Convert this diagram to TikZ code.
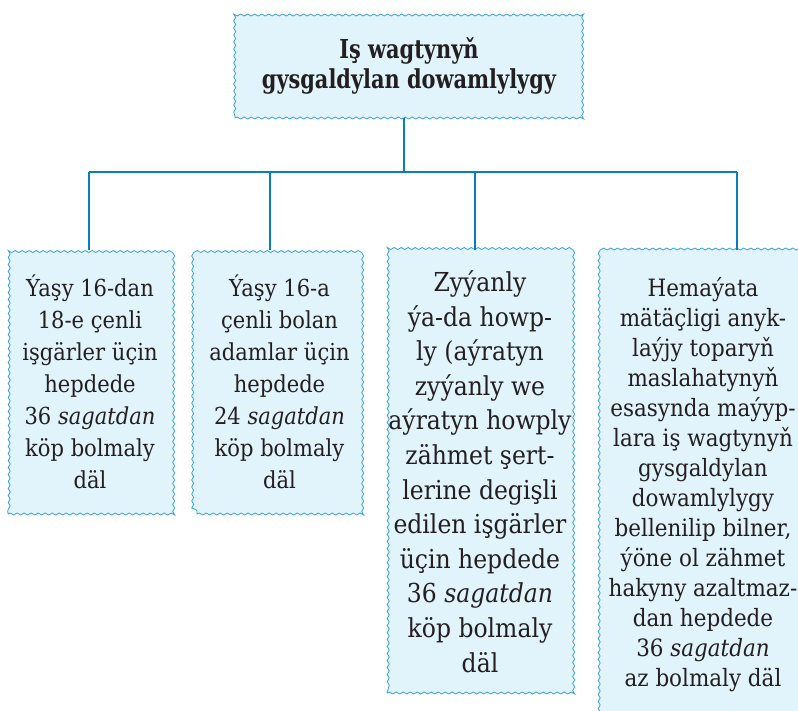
\documentclass[tikz,border=0pt]{standalone}
\usepackage{fontspec}
\setmainfont{DejaVu Serif}[Scale=0.9, FakeStretch=0.9]
\newfontfamily\titlefont{DejaVu Serif}[Scale=0.9, FakeStretch=0.8]
\usetikzlibrary{decorations.pathmorphing}
\definecolor{boxfill}{HTML}{E1F3FB}
\definecolor{boxline}{HTML}{3AA3D8}
\definecolor{connc}{HTML}{0A7EBC}
\definecolor{txt}{HTML}{231F20}
\begin{document}
\begin{tikzpicture}[x=1pt,y=-1pt]
\useasboundingbox (0,0) rectangle (798,710);
\clip (0,0) rectangle (798,710);
\tikzset{
  wavybox/.style={draw=boxline, fill=boxfill, line width=0.8pt, decorate,
    decoration={snake, segment length=7pt, amplitude=1pt},
    inner sep=0pt, align=center, text=txt},
  connline/.style={draw=connc, line width=2pt},
  smalltxt/.style={font=\fontsize{26}{32}\selectfont},
}
% top box
\node[wavybox, minimum width=348pt, minimum height=105pt,
  font=\titlefont\bfseries\fontsize{29}{30}\selectfont] (top) at (409,65.5)
  {Iş wagtynyň\\gysgaldylan dowamlylygy};
% lower boxes
\node[wavybox, smalltxt, minimum width=164pt, minimum height=264pt] (b1) at (90,382)
  {Ýaşy 16-dan\\18-e çenli\\işgärler üçin\\hepdede\\36 \textit{sagatdan}\\köp bolmaly\\däl};
\node[wavybox, smalltxt, minimum width=165pt, minimum height=264pt] (b2) at (279.5,382)
  {Ýaşy 16-a\\çenli bolan\\adamlar üçin\\hepdede\\24 \textit{sagatdan}\\köp bolmaly\\däl};
\node[wavybox, font=\fontsize{29}{34.6}\selectfont, minimum width=186pt, minimum height=443pt] (b3) at (480,471.5)
  {Zyýanly\\ýa-da howp-\\ly (aýratyn\\zyýanly we\\aýratyn howply\\zähmet şert-\\lerine degişli\\edilen işgärler\\üçin hepdede\\36 \textit{sagatdan}\\köp bolmaly\\däl};
\node[wavybox, font=\fontsize{26.5}{30}\selectfont, minimum width=210pt, minimum height=470pt] (b4) at (703,485)
  {Hemaýata\\mätäçligi anyk-\\laýjy toparyň\\maslahatynyň\\esasynda maýyp-\\lara iş wagtynyň\\gysgaldylan\\dowamlylygy\\bellenilip bilner,\\ýöne ol zähmet\\hakyny azaltmaz-\\dan hepdede\\36 \textit{sagatdan}\\az bolmaly däl};
% connectors
\coordinate (hub) at (404,172);
\coordinate (j1) at (89,172);
\coordinate (j2) at (270,172);
\coordinate (j3) at (475,172);
\coordinate (j4) at (737,172);
\draw[connline] (top.south -| hub) -- (hub);
\draw[connline] (j1) -- (j4);
\draw[connline] (j1) -- (b1.north -| j1);
\draw[connline] (j2) -- (b2.north -| j2);
\draw[connline] (j3) -- (b3.north -| j3);
\draw[connline] (j4) -- (b4.north -| j4);
\end{tikzpicture}
\end{document}
